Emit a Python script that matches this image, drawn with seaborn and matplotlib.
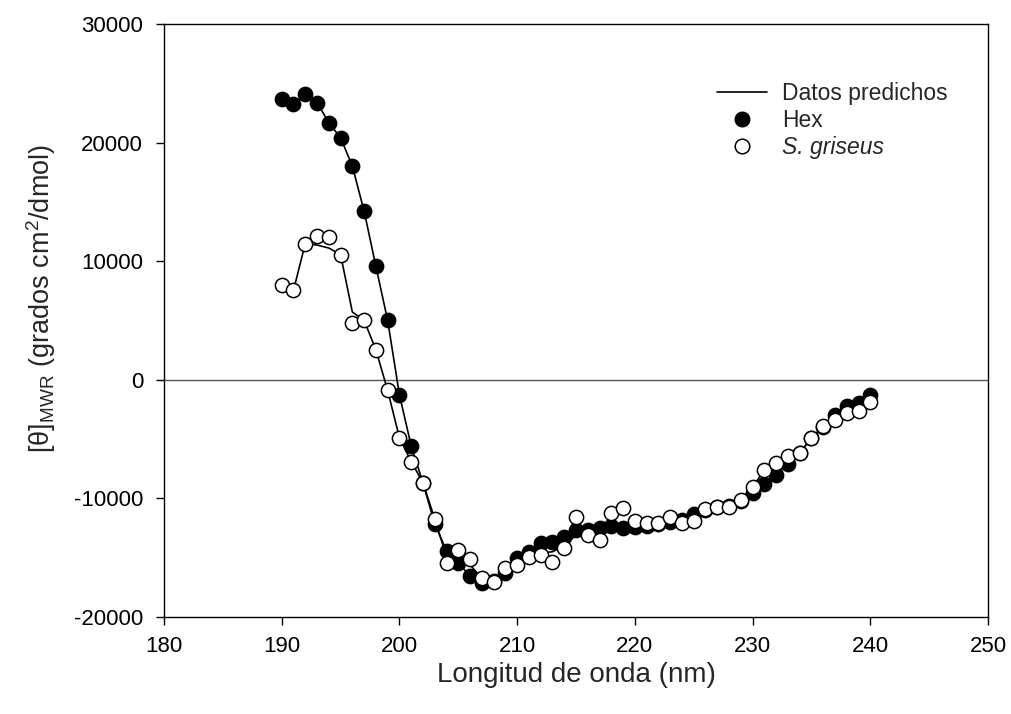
import numpy as np
import pandas as pd
import matplotlib
matplotlib.use("Agg")
import matplotlib.pyplot as plt
import seaborn as sns
from matplotlib.lines import Line2D

# ---- data ----
wavelength = list(range(190, 241))

hex_vals = [23650, 23230, 24070, 23370, 21680, 20410, 18020, 14220, 9570, 5010,
            -1270, -5570, -8700, -12160, -14420, -15430, -16550, -17170, -17000, -16330,
            -15060, -14500, -13790, -13650, -13230, -12670, -12670, -12530, -12330, -12530,
            -12400, -12300, -12200, -11970, -11800, -11350, -11000, -10750, -10600, -10200,
            -9570, -8780, -8020, -7090, -6200, -4930, -4000, -2960, -2250, -1920,
            -1270]

sg_vals = [8020, 7540, 11490, 12100, 12020, 10560, 4790, 5010, 2530, -900,
           -4880, -6900, -8670, -11740, -15430, -14360, -15150, -16750, -17030, -15910,
           -15630, -14920, -14780, -15340, -14220, -11550, -13090, -13510, -11260, -10840,
           -11880, -12100, -12100, -11550, -12050, -11910, -10920, -10700, -10700, -10100,
           -9010, -7640, -7040, -6420, -6140, -4930, -3890, -3380, -2760, -2590,
           -1830]

pred_hex = list(hex_vals)

pred_sg = [8020, 7540, 11490, 11360, 11110, 10560, 5720, 5010, 2530, -900,
           -4880, -6900, -8670, -11740, -14900, -15000, -15600, -16750, -17030, -15910,
           -15500, -14920, -14600, -14500, -14000, -13100, -13000, -12900, -12700, -12500,
           -12300, -12100, -12100, -11800, -11900, -11700, -10920, -10700, -10700, -10100,
           -9010, -7640, -7040, -6420, -6140, -4930, -3890, -3380, -2760, -2590,
           -1830]

x_ticks = [180, 190, 200, 210, 220, 230, 240, 250]
y_ticks = [-20000, -10000, 0, 10000, 20000, 30000]

labels = ["Datos predichos", "Hex", "S. griseus"]

# ---- style ----
sns.set_theme(style="white")
plt.rcParams["font.family"] = ["Liberation Sans", "DejaVu Sans"]
plt.rcParams["mathtext.fontset"] = "custom"
plt.rcParams["mathtext.rm"] = "Liberation Sans"
plt.rcParams["mathtext.it"] = "Liberation Sans:italic"
plt.rcParams["mathtext.default"] = "regular"

fig = plt.figure(figsize=(10.11, 7.14), dpi=100)
ax = fig.add_axes([164 / 1011, 1 - 617 / 714, (988 - 164) / 1011, (617 - 24) / 714])

df_hex = pd.DataFrame({"wl": wavelength, "obs": hex_vals, "pred": pred_hex})
df_sg = pd.DataFrame({"wl": wavelength, "obs": sg_vals, "pred": pred_sg})

ax.axhline(0, color="#555555", lw=1.0, zorder=1)

sns.lineplot(data=df_hex, x="wl", y="pred", ax=ax, color="black", lw=1.2,
             estimator=None, sort=False, zorder=2)
sns.lineplot(data=df_sg, x="wl", y="pred", ax=ax, color="black", lw=1.2,
             estimator=None, sort=False, zorder=2)
sns.scatterplot(data=df_hex, x="wl", y="obs", ax=ax, color="black",
                edgecolor="black", s=105, linewidth=1.1, zorder=3)
sns.scatterplot(data=df_sg, x="wl", y="obs", ax=ax, color="white",
                edgecolor="black", s=105, linewidth=1.1, zorder=4)

ax.set_xlim(180, 250)
ax.set_ylim(-20000, 30000)
ax.set_xticks(x_ticks)
ax.set_yticks(y_ticks)
ax.set_xticklabels([str(v) for v in x_ticks])
ax.set_yticklabels([str(v) for v in y_ticks])

for sp in ax.spines.values():
    sp.set_visible(True)
    sp.set_color("black")
    sp.set_linewidth(1.0)

ax.tick_params(axis="both", direction="out", length=6, width=1.0,
               colors="black", labelsize=16, bottom=True, left=True,
               top=False, right=False)
ax.tick_params(axis="x", pad=8)
ax.tick_params(axis="y", pad=9)

ax.set_xlabel("Longitud de onda (nm)", fontsize=20, labelpad=3)
ax.set_ylabel(r"[$\theta$]$_{MWR}$ (grados cm$^2$/dmol)", fontsize=19.5)
ax.yaxis.set_label_coords((58 - 164) / 824, (617 - 298) / 593)

handles = [
    Line2D([], [], color="black", lw=1.2),
    Line2D([], [], color="black", marker="o", ls="none", markersize=10.5,
           markerfacecolor="black", markeredgecolor="black"),
    Line2D([], [], color="black", marker="o", ls="none", markersize=10.5,
           markerfacecolor="white", markeredgecolor="black", markeredgewidth=1.1),
]
leg = ax.legend(handles, labels, loc="upper left",
                bbox_to_anchor=((717 - 164) / 824, (617 - 82) / 593),
                frameon=False, fontsize=16.5, handlelength=2.2,
                handletextpad=0.65, labelspacing=0.18, borderpad=0,
                borderaxespad=0)
leg.get_texts()[2].set_fontstyle("italic")

fig.savefig("out.png", dpi=100)
